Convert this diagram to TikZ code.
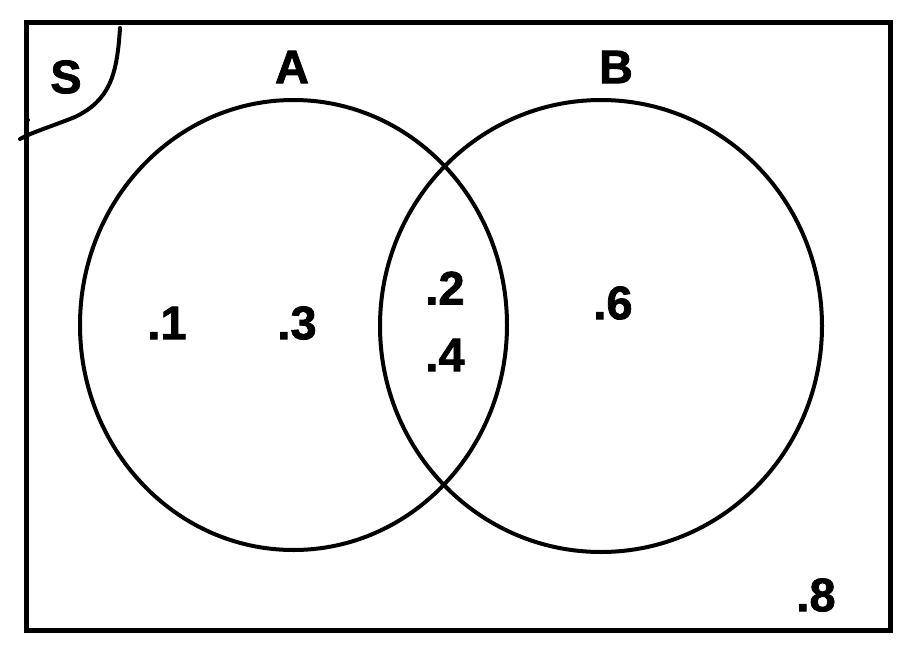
\documentclass[tikz,border=0pt]{standalone}
\usepackage{fontspec}
\newfontfamily\heavy{Liberation Sans Bold}[FakeBold=1.6]
\begin{document}
\begin{tikzpicture}[x=1pt,y=-1pt,
  lbl/.style={font=\fontsize{47}{47}\selectfont\heavy, inner sep=0pt},
  ring/.style={draw=black, line width=4pt}]
\useasboundingbox (0,0) rectangle (913,653);
\fill[white] (0,0) rectangle (913,653);
\node[draw=black, line width=5pt, minimum width=864pt, minimum height=608pt, inner sep=0pt, anchor=north west] (S) at (24,20) {};
\draw[line width=4pt, line cap=round] (120,28) .. controls (117,75) and (110,100) .. (75,117) .. controls (50,127) and (30,133) .. (20,139);
\fill (28,120) circle (2pt);
\draw[ring] (293.5,325) ellipse [x radius=213.5, y radius=225];
\draw[ring] (601,326) ellipse [x radius=221, y radius=226];
\node[lbl] (s) at (66,77) {S};
\node[lbl] (a) at (292,67) {A};
\node[lbl] (b) at (616,67) {B};
\node[lbl] (p1) at (167,323) {.1};
\node[lbl] (p3) at (297,323) {.3};
\node[lbl] (p2) at (445,288) {.2};
\node[lbl] (p4) at (445,355) {.4};
\node[lbl] (p6) at (613,303) {.6};
\node[lbl] (p8) at (816,595) {.8};
\end{tikzpicture}
\end{document}
